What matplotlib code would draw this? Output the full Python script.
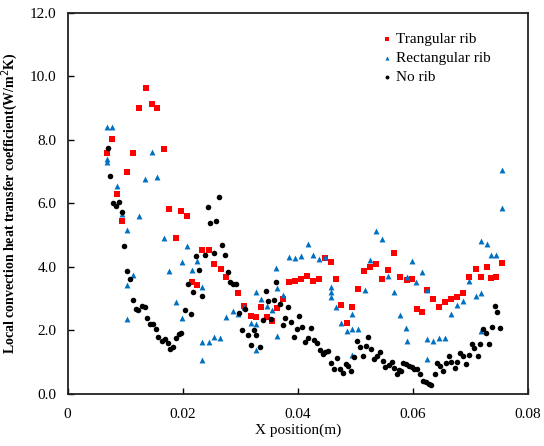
import matplotlib
matplotlib.use('Agg')
import matplotlib.pyplot as plt

plt.rcParams['font.family'] = ['Liberation Serif', 'DejaVu Serif']

# Trangular rib
tri_x = [0.00685, 0.0077, 0.0086, 0.0095, 0.0104, 0.0114, 0.0125, 0.0136, 0.0146, 0.0156,
         0.0167, 0.0177, 0.0188, 0.0198, 0.0207, 0.0216, 0.0225, 0.0233, 0.0245, 0.0255,
         0.0266, 0.0276, 0.0297, 0.0307, 0.0318, 0.0328, 0.0337, 0.0346, 0.0355, 0.0364,
         0.0374, 0.0385, 0.0396, 0.0406, 0.0416, 0.0427, 0.0437, 0.0448, 0.0458, 0.0467,
         0.0476, 0.0485, 0.0494, 0.0505, 0.0515, 0.0526, 0.0536, 0.0547, 0.0557, 0.0568,
         0.0578, 0.0589, 0.0598, 0.0607, 0.0615, 0.0624, 0.0635, 0.0645, 0.0656, 0.0666,
         0.0677, 0.0687, 0.0698, 0.0709, 0.0718, 0.0728, 0.0736, 0.0745, 0.0755]
tri_y = [7.58, 8.02, 6.30, 5.45, 6.97, 7.58, 9.00, 9.61, 9.13, 8.99,
         7.70, 5.83, 4.92, 5.76, 5.61, 3.53, 3.42, 4.54, 4.52, 4.08,
         3.92, 3.69, 3.17, 2.77, 2.44, 2.42, 2.73, 2.41, 2.29, 2.70,
         2.98, 3.51, 3.55, 3.63, 3.72, 3.56, 3.61, 4.28, 4.16, 3.61,
         2.79, 2.22, 2.75, 3.30, 3.86, 3.98, 4.10, 3.63, 3.90, 4.42,
         3.69, 3.58, 3.63, 2.66, 2.58, 3.27, 2.99, 2.75, 2.89, 3.00,
         3.05, 3.17, 3.69, 3.94, 3.67, 3.99, 3.64, 3.67, 4.13]

# Rectangular rib
rect_x = [0.00687, 0.00767, 0.00687, 0.00687, 0.0086, 0.0095, 0.0104, 0.0104, 0.0104, 0.0114,
          0.0125, 0.0135, 0.0146, 0.0156, 0.0167, 0.0177, 0.0188, 0.0199, 0.0199, 0.0207,
          0.0216, 0.0225, 0.0234, 0.0234, 0.0234, 0.0245, 0.0255, 0.0265, 0.0276, 0.0287,
          0.0297, 0.0307, 0.0318, 0.0328, 0.0328, 0.0328, 0.0337, 0.0346, 0.0355, 0.0363,
          0.0364, 0.0364, 0.0374, 0.0385, 0.0396, 0.0406, 0.0417, 0.0427, 0.0437, 0.0448,
          0.0458, 0.0458, 0.0458, 0.0467, 0.0476, 0.0485, 0.0494, 0.0495, 0.0495, 0.0505,
          0.0516, 0.0525, 0.0536, 0.0547, 0.0557, 0.0568, 0.0578, 0.0588, 0.0589, 0.0589,
          0.0598, 0.0606, 0.0615, 0.0624, 0.0624, 0.0624, 0.0635, 0.0645, 0.0655, 0.0666,
          0.0677, 0.0687, 0.0697, 0.0709, 0.0718, 0.0718, 0.0718, 0.0728, 0.0736, 0.0745,
          0.0754, 0.0754]
rect_y = [8.39, 8.39, 7.38, 7.30, 6.54, 5.66, 5.16, 3.43, 2.35, 3.75,
          5.59, 6.77, 7.60, 6.83, 4.91, 3.88, 2.90, 4.14, 2.40, 4.64,
          3.89, 4.19, 3.36, 1.64, 1.07, 1.65, 1.79, 1.77, 2.42, 2.62,
          2.51, 2.74, 2.24, 3.21, 2.21, 1.39, 3.00, 2.77, 2.63, 3.97,
          3.32, 1.81, 3.10, 4.30, 4.27, 4.33, 4.72, 4.37, 4.25, 4.31,
          3.36, 3.21, 3.04, 2.73, 2.22, 1.99, 2.51, 2.04, 1.22, 2.04,
          3.28, 4.22, 5.13, 4.86, 3.71, 3.21, 2.48, 2.09, 3.69, 1.66,
          4.19, 3.52, 3.83, 3.27, 1.73, 1.10, 1.67, 1.77, 1.75, 2.51,
          2.79, 2.91, 3.55, 3.08, 4.81, 3.18, 1.98, 4.71, 4.36, 4.37,
          7.05, 5.84]

# No rib
none_x = [0.00697, 0.00737, 0.00794, 0.00836, 0.00888, 0.0094, 0.00986, 0.0104, 0.0109, 0.0114,
          0.0119, 0.0123, 0.0129, 0.0134, 0.0138, 0.0144, 0.0148, 0.0154, 0.0158, 0.0164,
          0.0169, 0.0174, 0.0178, 0.0184, 0.0188, 0.0193, 0.0198, 0.0204, 0.0209, 0.0214,
          0.0218, 0.0224, 0.0228, 0.0234, 0.0239, 0.0244, 0.0248, 0.0254, 0.0258, 0.0263,
          0.0269, 0.0274, 0.0278, 0.0283, 0.0288, 0.0293, 0.0298, 0.0304, 0.0308, 0.0313,
          0.0318, 0.0324, 0.0328, 0.0334, 0.0339, 0.0344, 0.0348, 0.0354, 0.0358, 0.0363,
          0.0369, 0.0374, 0.0378, 0.0383, 0.0388, 0.0393, 0.0398, 0.0403, 0.0408, 0.0413,
          0.0418, 0.0423, 0.0428, 0.0433, 0.0439, 0.0443, 0.0448, 0.0453, 0.0458, 0.0463,
          0.0468, 0.0473, 0.0478, 0.0483, 0.0488, 0.0493, 0.0498, 0.0503, 0.0508, 0.0513,
          0.0518, 0.0522, 0.0527, 0.0532, 0.0537, 0.0543, 0.0548, 0.0552, 0.0558, 0.0563,
          0.0568, 0.0573, 0.0576, 0.0579, 0.0583, 0.0588, 0.0593, 0.0598, 0.0602, 0.0607,
          0.0613, 0.0617, 0.0622, 0.0628, 0.0632, 0.0638, 0.0642, 0.0647, 0.0653, 0.0658,
          0.0662, 0.0667, 0.0673, 0.0677, 0.0682, 0.0687, 0.0693, 0.0698, 0.0703, 0.0707,
          0.0713, 0.0717, 0.0722, 0.0727, 0.0732, 0.0738, 0.0743, 0.0747, 0.0752]
none_y = [7.74, 6.86, 6.02, 5.91, 6.04, 5.72, 4.66, 3.86, 3.62, 2.97,
          2.68, 2.63, 2.78, 2.74, 2.38, 2.19, 2.21, 2.05, 1.80, 1.68,
          1.73, 1.61, 1.42, 1.47, 1.76, 1.88, 1.91, 2.64, 3.45, 2.51,
          3.22, 4.34, 3.89, 3.07, 4.38, 5.88, 5.38, 4.43, 5.45, 6.20,
          4.69, 4.38, 3.83, 3.51, 3.45, 3.46, 2.54, 2.01, 2.66, 1.85,
          1.53, 2.01, 1.87, 1.49, 2.32, 3.24, 2.92, 2.35, 2.96, 3.51,
          2.84, 2.18, 2.40, 2.74, 2.25, 1.78, 2.03, 2.44, 2.11, 1.63,
          1.77, 2.08, 1.69, 1.61, 1.39, 1.26, 1.32, 1.35, 0.96, 0.80,
          1.12, 0.78, 0.67, 0.93, 0.88, 0.72, 1.17, 1.67, 1.49, 1.18,
          1.52, 1.80, 1.42, 1.11, 1.20, 1.33, 1.05, 0.84, 0.92, 1.02,
          0.83, 0.63, 0.75, 0.71, 0.96, 0.93, 0.89, 0.84, 0.80, 0.79,
          0.64, 0.41, 0.37, 0.32, 0.27, 0.64, 0.96, 0.89, 0.72, 0.97,
          1.19, 1.01, 0.82, 1.02, 1.30, 1.19, 0.95, 1.22, 1.57, 1.46,
          1.19, 1.57, 2.04, 1.92, 1.57, 2.10, 2.77, 2.59, 2.08]

xticks = [0, 0.02, 0.04, 0.06, 0.08]
xtick_labels = ['0', '0.02', '0.04', '0.06', '0.08']
yticks = [0, 2, 4, 6, 8, 10, 12]
ytick_labels = ['0.0', '2.0', '4.0', '6.0', '8.0', '10.0', '12.0']

fig = plt.figure(figsize=(5.44, 4.46), dpi=100)
ax = fig.add_axes([67.5 / 544, 52 / 446, 460.5 / 544, 381.5 / 446])

ax.scatter(tri_x, tri_y, marker='s', s=16, color='#ff0000', linewidths=0, label='Trangular rib', zorder=3)
ax.scatter(rect_x, rect_y, marker='^', s=18, color='#0070c0', linewidths=0, label='Rectangular rib', zorder=4)
ax.scatter(none_x, none_y, marker='o', s=16, color='black', linewidths=0, label='No rib', zorder=5)

ax.set_xlim(0, 0.08)
ax.set_ylim(0, 12)
ax.set_xticks(xticks)
ax.set_xticklabels(xtick_labels)
ax.set_yticks(yticks)
ax.set_yticklabels(ytick_labels)
ax.tick_params(direction='in', length=4, width=1, labelsize=11, pad=8)
ax.tick_params(axis='x', pad=10)
for sp in ax.spines.values():
    sp.set_linewidth(1.3)
    sp.set_color('#222222')

ax.set_xlabel('X position(m)', fontsize=11, labelpad=2)
ax.set_ylabel('Local convection heat transfer coefficient(W/m$^2$K)', fontsize=10,
              fontweight='bold', labelpad=7)

ax.legend(loc='upper right', bbox_to_anchor=(0.95, 0.985), frameon=False, fontsize=11,
          markerscale=0.7, handletextpad=0.1, labelspacing=0.35, handlelength=1.0)

fig.savefig('out.png', dpi=100)
